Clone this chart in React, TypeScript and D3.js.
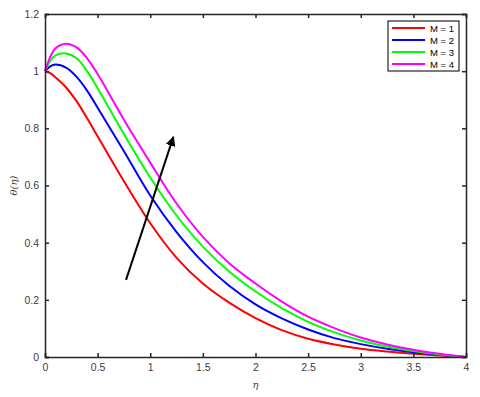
import { useRef, useEffect } from 'react';
import * as d3 from 'd3';

const Settings = {
  width: 480,
  height: 397,
  left: 45,
  right: 466,
  top: 14,
  bottom: 357,
};

const etaValues = [0, 0.05, 0.1, 0.2, 0.3, 0.4, 0.5, 0.75, 1.0, 1.25, 1.5, 1.75, 2.0, 2.25, 2.5, 2.75, 3.0, 3.25, 3.5, 3.75, 4.0];

const thetaM1 = [1.0, 0.993, 0.978, 0.943, 0.895, 0.835, 0.772, 0.615, 0.468, 0.347, 0.257, 0.19, 0.136, 0.094, 0.064, 0.044, 0.029, 0.019, 0.011, 0.005, 0.0];
const thetaM2 = [1.0, 1.017, 1.023, 1.012, 0.98, 0.932, 0.872, 0.72, 0.565, 0.437, 0.332, 0.249, 0.184, 0.135, 0.096, 0.066, 0.045, 0.029, 0.017, 0.008, 0.0];
const thetaM3 = [1.0, 1.036, 1.055, 1.062, 1.045, 1.0, 0.94, 0.78, 0.628, 0.495, 0.386, 0.299, 0.229, 0.171, 0.123, 0.086, 0.058, 0.037, 0.021, 0.009, 0.0];
const thetaM4 = [1.0, 1.05, 1.08, 1.096, 1.083, 1.045, 0.99, 0.83, 0.68, 0.537, 0.42, 0.328, 0.257, 0.194, 0.141, 0.101, 0.068, 0.044, 0.025, 0.011, 0.0];

const seriesNames = ['M = 1', 'M = 2', 'M = 3', 'M = 4'];
const seriesColors = ['#ff0000', '#0000ff', '#00ff00', '#ff00ff'];

const xTicks = [0, 0.5, 1, 1.5, 2, 2.5, 3, 3.5, 4];
const yTicks = [0, 0.2, 0.4, 0.6, 0.8, 1, 1.2];

// arrow drawn in data coords (eta, theta)
const arrowFrom = [0.77, 0.27];
const arrowTo = [1.22, 0.77];

function App() {
  const svgRef = useRef<SVGSVGElement>(null);

  useEffect(() => {
    const svg = d3.select(svgRef.current);
    svg.selectAll('*').remove();

    const xScale = d3.scaleLinear().domain([0, 4]).range([Settings.left, Settings.right]);
    const yScale = d3.scaleLinear().domain([0, 1.2]).range([Settings.bottom, Settings.top]);

    const font = 'Liberation Sans, Arial, sans-serif';
    const axisColor = '#262626';

    const allSeries = [thetaM1, thetaM2, thetaM3, thetaM4];

    const myLine = d3.line<number>()
      .x((_, i) => xScale(etaValues[i]))
      .y(v => yScale(v))
      .curve(d3.curveCatmullRom.alpha(0.5));

    svg.append('g')
      .selectAll('path')
      .data(allSeries)
      .join('path')
      .attr('d', d => myLine(d))
      .attr('fill', 'none')
      .attr('stroke', (_, i) => seriesColors[i])
      .attr('stroke-width', 2);

    // axes with inward ticks on all four sides
    const tickLen = 4;
    const bottomAxis = svg.append('g')
      .attr('transform', `translate(0,${Settings.bottom})`)
      .call(d3.axisBottom(xScale).tickValues(xTicks).tickSize(-tickLen).tickPadding(7).tickFormat(d => String(d)));
    const topAxis = svg.append('g')
      .attr('transform', `translate(0,${Settings.top})`)
      .call(d3.axisTop(xScale).tickValues(xTicks).tickSize(-tickLen).tickFormat(() => ''));
    const leftAxis = svg.append('g')
      .attr('transform', `translate(${Settings.left},0)`)
      .call(d3.axisLeft(yScale).tickValues(yTicks).tickSize(-tickLen).tickPadding(6).tickFormat(d => String(d)));
    const rightAxis = svg.append('g')
      .attr('transform', `translate(${Settings.right},0)`)
      .call(d3.axisRight(yScale).tickValues(yTicks).tickSize(-tickLen).tickFormat(() => ''));

    [bottomAxis, topAxis, leftAxis, rightAxis].forEach(g => {
      g.select('.domain').attr('stroke', axisColor).attr('stroke-width', 1.5);
      g.selectAll('.tick line').attr('stroke', axisColor).attr('stroke-width', 1.5);
      g.selectAll('.tick text')
        .style('font-family', font)
        .style('font-size', '10.5px')
        .attr('fill', '#404040');
    });

    // axis labels
    svg.append('text')
      .attr('x', (Settings.left + Settings.right) / 2)
      .attr('y', 388)
      .attr('text-anchor', 'middle')
      .style('font-family', 'DejaVu Serif, serif')
      .style('font-style', 'italic')
      .style('font-size', '10px')
      .attr('fill', '#404040')
      .text('η');

    svg.append('text')
      .attr('transform', `translate(17,${(Settings.top + Settings.bottom) / 2}) rotate(-90)`)
      .attr('text-anchor', 'middle')
      .style('font-family', 'DejaVu Serif, serif')
      .style('font-style', 'italic')
      .style('font-size', '10px')
      .attr('fill', '#404040')
      .text('θ(η)');

    // arrow
    svg.append('defs').append('marker')
      .attr('id', 'arrowhead')
      .attr('viewBox', '0 0 10 10')
      .attr('refX', 9)
      .attr('refY', 5)
      .attr('markerWidth', 5)
      .attr('markerHeight', 5)
      .attr('markerUnits', 'strokeWidth')
      .attr('orient', 'auto')
      .append('path')
      .attr('d', 'M0,0 L10,5 L0,10 Z')
      .attr('fill', '#000');

    svg.append('line')
      .attr('x1', xScale(arrowFrom[0]))
      .attr('y1', yScale(arrowFrom[1]))
      .attr('x2', xScale(arrowTo[0]))
      .attr('y2', yScale(arrowTo[1]))
      .attr('stroke', '#000')
      .attr('stroke-width', 2)
      .attr('marker-end', 'url(#arrowhead)');

    // legend
    const legend = svg.append('g').attr('transform', 'translate(388,21)');
    legend.append('rect')
      .attr('width', 71)
      .attr('height', 50)
      .attr('fill', '#fff')
      .attr('stroke', axisColor)
      .attr('stroke-width', 1.2);

    const rows = legend.selectAll('g.row')
      .data(seriesNames)
      .join('g')
      .attr('class', 'row')
      .attr('transform', (_, i) => `translate(0,${7 + i * 12})`);
    rows.append('line')
      .attr('x1', 4)
      .attr('x2', 37)
      .attr('stroke', (_, i) => seriesColors[i])
      .attr('stroke-width', 2);
    rows.append('text')
      .attr('x', 42)
      .attr('y', 3.5)
      .style('font-family', font)
      .style('font-size', '9.5px')
      .attr('fill', '#000')
      .text(d => d);
  }, []);

  return (
    <svg
      ref={svgRef}
      width={Settings.width}
      height={Settings.height}
      style={{ position: 'absolute', left: 0, top: 0, background: '#fff' }}
    />
  );
}

export default App;
